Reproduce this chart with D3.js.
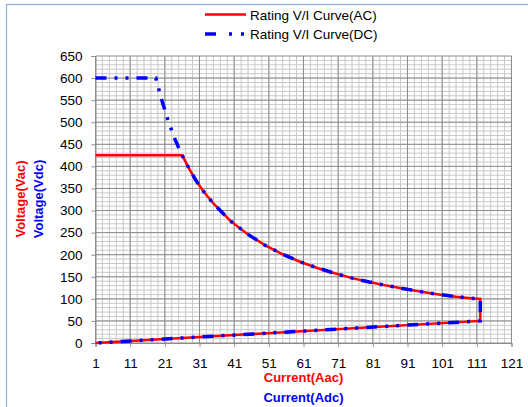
<!DOCTYPE html>
<html>
<head>
<meta charset="utf-8">
<script src="https://cdn.jsdelivr.net/npm/d3@7"></script>
<style>
  body { margin: 0; background: #fff; }
  text { font-family: "Liberation Sans", Arial, sans-serif; }
</style>
</head>
<body>
<script>
/* Chart data */
var acCurrent = [1, 26, 28, 30, 32, 35, 40, 45, 50, 55, 60, 65, 70, 75, 80, 85, 90, 95, 100, 105, 110, 112, 112, 1];
var acVoltage = [425, 425, 395, 368, 345, 316, 276, 246, 221, 201, 184, 170, 158, 147, 138, 130, 123, 116, 110, 105, 101, 100, 50, 0];
var dcCurrent = [1, 18.4, 20, 22, 24, 26, 28, 30, 32, 35, 40, 45, 50, 55, 60, 65, 70, 75, 80, 85, 90, 95, 100, 105, 110, 112, 112, 1];
var dcVoltage = [600, 600, 553, 502, 460, 425, 395, 368, 345, 316, 276, 246, 221, 201, 184, 170, 158, 147, 138, 130, 123, 116, 110, 105, 101, 100, 50, 0];
var xTicks = [1, 11, 21, 31, 41, 51, 61, 71, 81, 91, 101, 111, 121];
var yTicks = [0, 50, 100, 150, 200, 250, 300, 350, 400, 450, 500, 550, 600, 650];
var seriesNames = ['Rating V/I Curve(AC)', 'Rating V/I Curve(DC)'];

/* Plot area */
var W = 528, H = 407;
var margin = {top: 56, right: 16.5, bottom: 64, left: 95.5},
    width = W - margin.left - margin.right,
    height = H - margin.top - margin.bottom;

var svg = d3.select('body')
    .append('svg')
    .attr('width', W)
    .attr('height', H);

/* Outer chart border */
svg.append('rect')
    .attr('x', 6.5).attr('y', 4.5)
    .attr('width', W).attr('height', H)
    .attr('fill', 'none')
    .attr('stroke', '#8eb4e3')
    .attr('stroke-width', 1.2);

var g = svg.append('g')
    .attr('transform', 'translate(' + margin.left + ',' + margin.top + ')');

var x = d3.scaleLinear().domain([1, 121]).range([0, width]);
var y = d3.scaleLinear().domain([0, 650]).range([height, 0]);

/* Minor grid */
g.append('g').selectAll('line')
    .data(d3.range(3, 121, 2))
    .enter().append('line')
    .attr('x1', function (d) { return x(d); })
    .attr('x2', function (d) { return x(d); })
    .attr('y1', 0).attr('y2', height)
    .attr('stroke', '#c8c8c8').attr('stroke-width', 1);
g.append('g').selectAll('line')
    .data(d3.range(10, 650, 10))
    .enter().append('line')
    .attr('x1', 0).attr('x2', width)
    .attr('y1', function (d) { return y(d); })
    .attr('y2', function (d) { return y(d); })
    .attr('stroke', '#c8c8c8').attr('stroke-width', 1);

/* Major grid */
g.append('g').selectAll('line')
    .data(xTicks)
    .enter().append('line')
    .attr('x1', function (d) { return x(d); })
    .attr('x2', function (d) { return x(d); })
    .attr('y1', 0).attr('y2', height)
    .attr('stroke', '#8c8c8c').attr('stroke-width', 1);
g.append('g').selectAll('line')
    .data(yTicks)
    .enter().append('line')
    .attr('x1', 0).attr('x2', width)
    .attr('y1', function (d) { return y(d); })
    .attr('y2', function (d) { return y(d); })
    .attr('stroke', '#8c8c8c').attr('stroke-width', 1);

/* Axes */
var xAxis = g.append('g')
    .attr('transform', 'translate(0,' + height + ')')
    .call(d3.axisBottom(x).tickValues(xTicks).tickSize(4).tickPadding(11));
var yAxis = g.append('g')
    .call(d3.axisLeft(y).tickValues(yTicks).tickSize(4).tickPadding(9));
[xAxis, yAxis].forEach(function (a) {
    a.select('.domain').attr('stroke', '#8c8c8c');
    a.selectAll('.tick line').attr('stroke', '#8c8c8c');
    a.selectAll('text')
        .attr('fill', '#000')
        .style('font-size', '13.5px')
        .style('font-family', '"Liberation Sans", Arial, sans-serif');
});

/* Series lines */
var line = d3.line()
    .x(function (d) { return x(d[0]); })
    .y(function (d) { return y(d[1]); });

g.append('path')
    .datum(d3.zip(acCurrent, acVoltage))
    .attr('d', line)
    .attr('fill', 'none')
    .attr('stroke', '#ff0000')
    .attr('stroke-width', 2.5);

g.append('path')
    .datum(d3.zip(dcCurrent, dcVoltage))
    .attr('d', line)
    .attr('fill', 'none')
    .attr('stroke', '#0000ff')
    .attr('stroke-width', 3.5)
    .attr('stroke-dasharray', '11,8,3,8,3,8');

/* Legend */
var legend = svg.append('g');
legend.append('line')
    .attr('x1', 205).attr('x2', 246).attr('y1', 14.5).attr('y2', 14.5)
    .attr('stroke', '#ff0000').attr('stroke-width', 2.5);
legend.append('line')
    .attr('x1', 205).attr('x2', 247).attr('y1', 34).attr('y2', 34)
    .attr('stroke', '#0000ff').attr('stroke-width', 3.5)
    .attr('stroke-dasharray', '11,13,3,9,3,9');
legend.selectAll('text.leg')
    .data(seriesNames)
    .enter().append('text')
    .attr('x', 250)
    .attr('y', function (d, i) { return 19.5 + i * 19.5; })
    .style('font-size', '13.5px')
    .text(function (d) { return d; });

/* Axis titles */
var yTitles = [['Voltage(Vac)', '#ff0000', 20], ['Voltage(Vdc)', '#0000ff', 38]];
yTitles.forEach(function (t) {
    svg.append('text')
        .attr('transform', 'translate(' + (t[2] + 5) + ',199) rotate(-90)')
        .attr('text-anchor', 'middle')
        .attr('fill', t[1])
        .style('font-size', '13px')
        .style('font-weight', 'bold')
        .text(t[0]);
});
var xTitles = [['Current(Aac)', '#ff0000', 381.5], ['Current(Adc)', '#0000ff', 401.5]];
xTitles.forEach(function (t) {
    svg.append('text')
        .attr('x', 303.5)
        .attr('y', t[2])
        .attr('text-anchor', 'middle')
        .attr('fill', t[1])
        .style('font-size', '13px')
        .style('font-weight', 'bold')
        .text(t[0]);
});
</script>
</body>
</html>
